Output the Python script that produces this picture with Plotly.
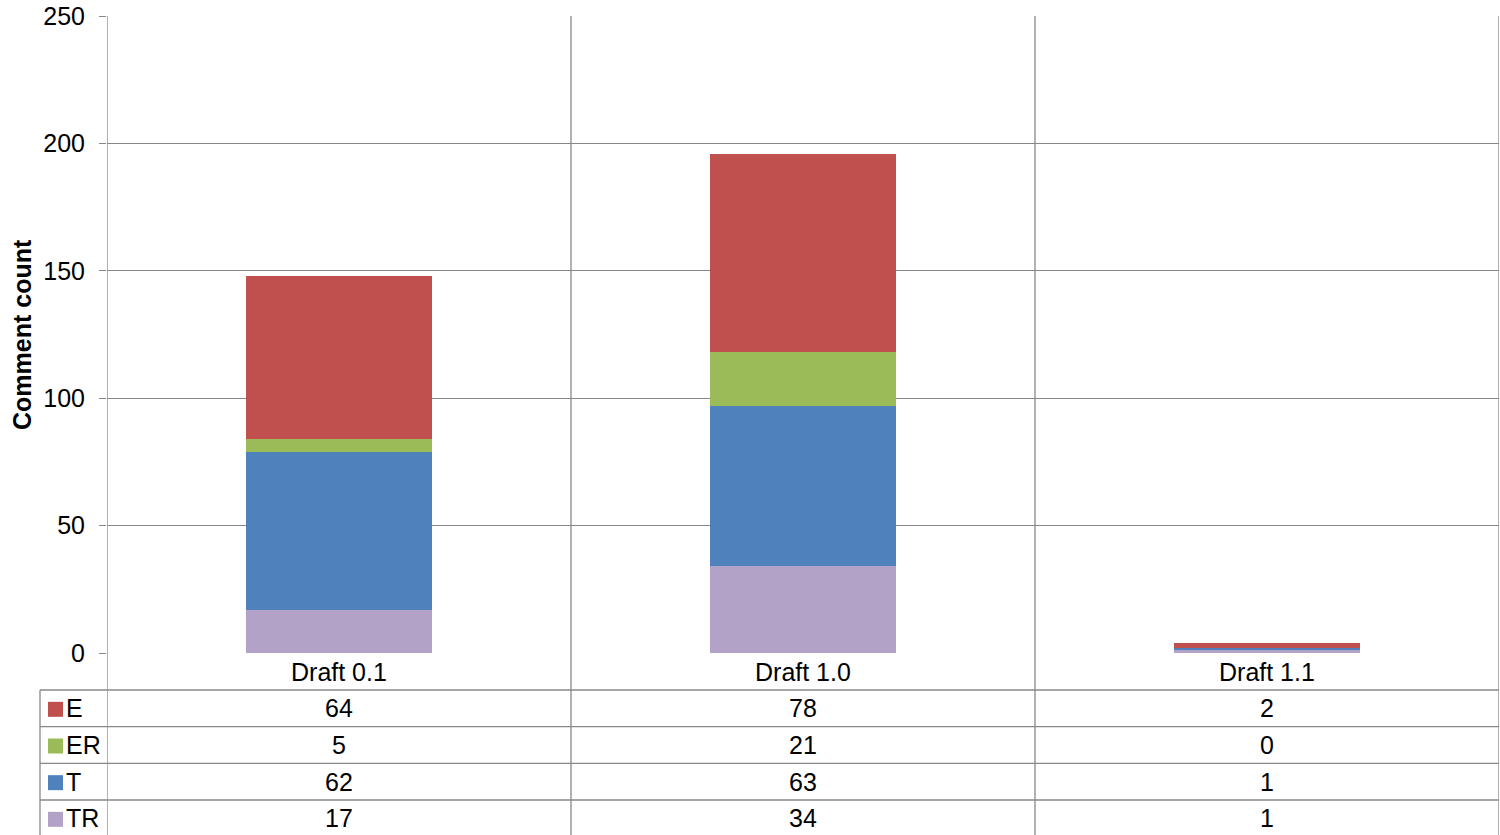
import plotly.graph_objects as go

categories = ["Draft 0.1", "Draft 1.0", "Draft 1.1"]
series_names = ["E", "ER", "T", "TR"]
E = [64, 78, 2]
ER = [5, 21, 0]
T = [62, 63, 1]
TR = [17, 34, 1]
series_values = {"E": E, "ER": ER, "T": T, "TR": TR}
colors = {"E": "#C0504D", "ER": "#9BBB59", "T": "#4F81BD", "TR": "#B2A2C7"}
y_ticks = [0, 50, 100, 150, 200, 250]
y_title = "Comment count"

W, H = 1500, 835
L, R, TOP, BOT = 107, 1, 16, 182
PH = H - TOP - BOT
PW = W - L - R
GRID = "#888888"
FONT = "Liberation Sans, Arial, sans-serif"
FS = 25


def py(pix):
    return (H - BOT - pix) / PH


def px(pix):
    return (pix - L) / PW


fig = go.Figure()
for name in ["TR", "T", "ER", "E"]:
    fig.add_trace(go.Bar(
        x=categories, y=series_values[name], name=name,
        marker=dict(color=colors[name], line=dict(width=0)),
        width=0.4,
    ))

shapes = []
annotations = []
n = len(categories)
for i in range(n + 1):
    shapes.append(dict(type="line", xref="x", yref="paper", x0=i - 0.5, x1=i - 0.5,
                       y0=py(H + 2), y1=1, line=dict(color=GRID, width=1.3), layer="below"))
shapes.append(dict(type="line", xref="paper", yref="paper", x0=px(40), x1=px(40),
                   y0=py(H + 2), y1=py(690), line=dict(color=GRID, width=1.3)))
row_h = (800 - 690) / 3
row_tops = [690 + k * row_h for k in range(len(series_names))]
for k, top in enumerate(row_tops):
    shapes.append(dict(type="line", xref="paper", yref="paper", x0=px(40), x1=1,
                       y0=py(top), y1=py(top), line=dict(color=GRID, width=1.3)))
for i, c in enumerate(categories):
    annotations.append(dict(x=i, y=py(672), xref="x", yref="paper", text=c, showarrow=False,
                            font=dict(size=FS, color="#000", family=FONT), xanchor="center", yanchor="middle"))
for k, name in enumerate(series_names):
    cy = row_tops[k] + row_h / 2
    shapes.append(dict(type="rect", xref="paper", yref="paper", x0=px(48), x1=px(63),
                       y0=py(cy + 8.5), y1=py(cy - 6.5), fillcolor=colors[name], line=dict(width=0)))
    annotations.append(dict(x=px(64), y=py(cy), xref="paper", yref="paper", text=name, showarrow=False,
                            font=dict(size=FS, color="#000", family=FONT), xanchor="left", yanchor="middle"))
    for i, v in enumerate(series_values[name]):
        annotations.append(dict(x=i, y=py(cy), xref="x", yref="paper", text=str(v), showarrow=False,
                                font=dict(size=FS, color="#000", family=FONT), xanchor="center", yanchor="middle"))
annotations.append(dict(x=px(22), y=py(335), xref="paper", yref="paper", text="<b>" + y_title + "</b>",
                        showarrow=False, textangle=-90, font=dict(size=FS, color="#000", family=FONT),
                        xanchor="center", yanchor="middle"))

fig.update_layout(
    width=W, height=H, barmode="stack", showlegend=False,
    margin=dict(l=L, r=R, t=TOP, b=BOT, autoexpand=False),
    paper_bgcolor="white", plot_bgcolor="white",
    font=dict(family=FONT, size=FS, color="#000"),
    shapes=shapes, annotations=annotations,
    xaxis=dict(type="category", range=[-0.5, n - 0.5], showticklabels=False, showgrid=False,
               zeroline=False, showline=False, ticks=""),
    yaxis=dict(range=[0, 250], tickvals=y_ticks, showgrid=True, gridcolor=GRID, gridwidth=1.3,
               zeroline=False, showline=False, ticks="outside", ticklen=7, tickcolor=GRID, tickwidth=1.3,
               tickfont=dict(size=FS, family=FONT, color="#000"), ticklabelstandoff=9),
)

fig.write_html("out.html", config={"displayModeBar": False},
               post_script="document.body.style.margin='0';document.body.style.overflow='hidden';")
